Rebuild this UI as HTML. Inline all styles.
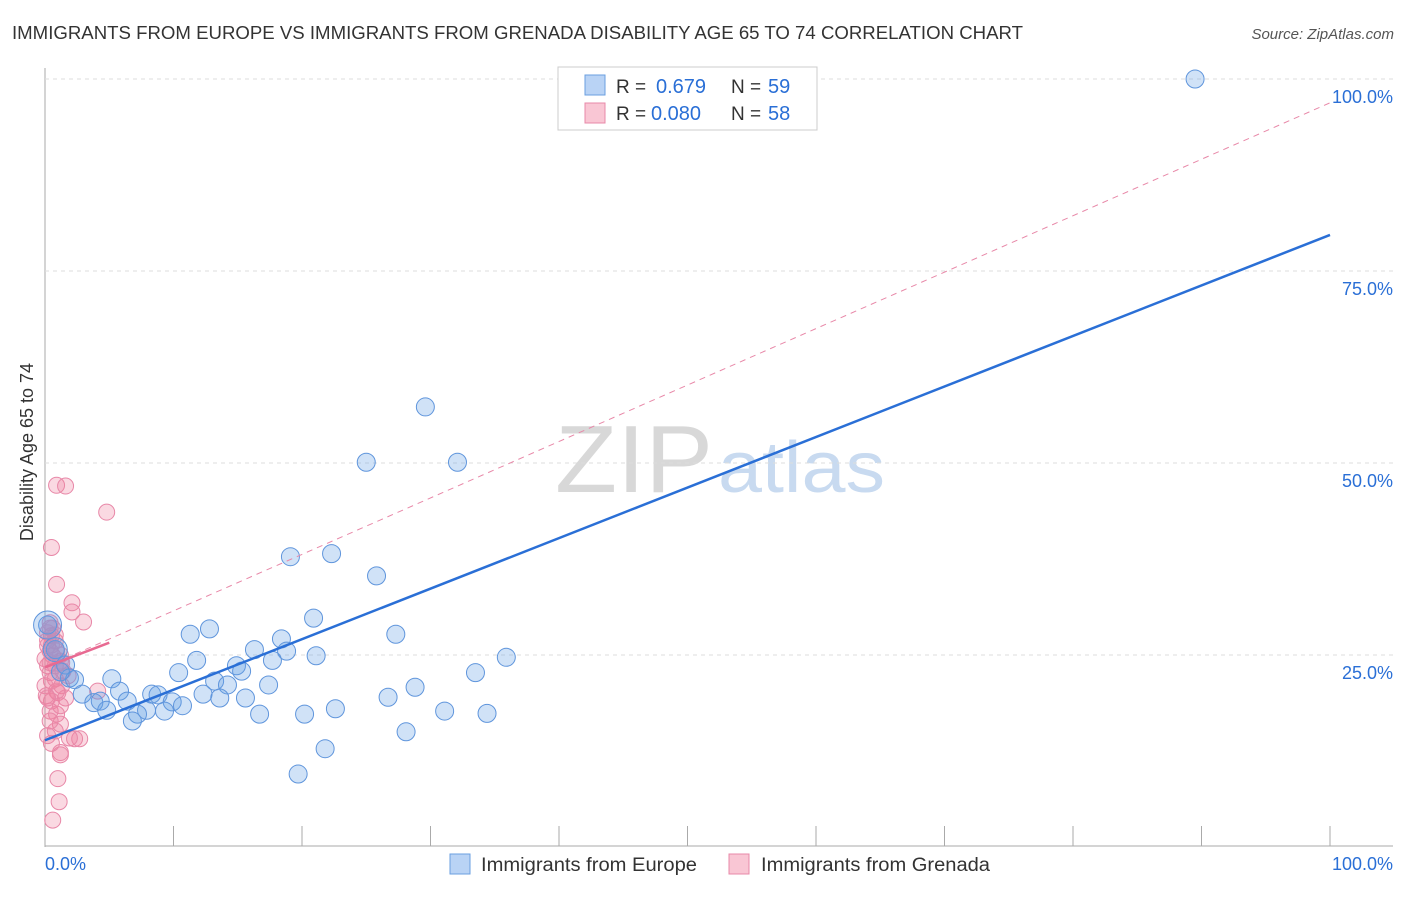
<!DOCTYPE html>
<html><head><meta charset="utf-8"><style>
body{margin:0;background:#fff;font-family:"Liberation Sans",sans-serif}
svg text{font-family:"Liberation Sans",sans-serif}
</style></head><body>
<svg id="c" width="1406" height="892" xmlns="http://www.w3.org/2000/svg">
<text x="12" y="39" font-size="18" fill="#333" textLength="1011" lengthAdjust="spacingAndGlyphs">IMMIGRANTS FROM EUROPE VS IMMIGRANTS FROM GRENADA DISABILITY AGE 65 TO 74 CORRELATION CHART</text>
<text x="1394" y="39" font-size="15" fill="#555" font-style="italic" text-anchor="end">Source: ZipAtlas.com</text>
<text x="36" y="455" font-size="18" fill="#333" text-anchor="middle" transform="rotate(-90 33 455)">Disability Age 65 to 74</text>
<text x="555" y="492" font-size="96" fill="#d8d8d8" font-family="Liberation Serif" textLength="158" lengthAdjust="spacingAndGlyphs">ZIP</text>
<text x="718" y="492" font-size="72" fill="#c8daf0" textLength="167" lengthAdjust="spacingAndGlyphs">atlas</text>
<g id="grid"></g><g id="marks"></g>
<g>
<rect x="558" y="67" width="259" height="63" fill="#fff" stroke="#ccc"/>
<rect x="585" y="75" width="20" height="20" fill="#b9d3f5" stroke="#6a9fe0"/>
<text x="616" y="93" font-size="19" fill="#333">R =</text>
<text x="656" y="93" font-size="20" fill="#2a6fd6">0.679</text>
<text x="731" y="93" font-size="19" fill="#333">N =</text>
<text x="768" y="93" font-size="20" fill="#2a6fd6">59</text>
<rect x="585" y="103" width="20" height="20" fill="#f9c6d4" stroke="#e888a8"/>
<text x="616" y="120" font-size="19" fill="#333">R =</text>
<text x="651" y="120" font-size="20" fill="#2a6fd6">0.080</text>
<text x="731" y="120" font-size="19" fill="#333">N =</text>
<text x="768" y="120" font-size="20" fill="#2a6fd6">58</text>
</g>
<g>
<rect x="450" y="854" width="20" height="20" fill="#b9d3f5" stroke="#6a9fe0"/>
<text x="481" y="871" font-size="19" fill="#333" textLength="216" lengthAdjust="spacingAndGlyphs">Immigrants from Europe</text>
<rect x="729" y="854" width="20" height="20" fill="#f9c6d4" stroke="#e888a8"/>
<text x="761" y="871" font-size="19" fill="#333" textLength="229" lengthAdjust="spacingAndGlyphs">Immigrants from Grenada</text>
</g>
</svg>
<script>
const yTicks=[25,50,75,100];
const blueX=[89.5,29.6,25.0,32.1,22.3,19.1,25.8,20.9,12.8,11.3,27.3,18.4,16.3,18.8,21.1,35.9,17.7,11.8,14.9,15.3,33.5,10.4,5.2,13.2,14.2,17.4,28.8,5.8,8.3,8.8,12.3,2.9,26.7,15.6,13.6,6.4,3.8,4.3,9.9,10.7,9.3,22.6,31.1,7.9,4.8,20.2,34.4,16.7,7.2,6.8,28.1,21.8,19.7,0.2,0.8,1.6,1.9,2.3,1.2];
const blueY=[100,57.3,50.1,50.1,38.2,37.8,35.3,29.8,28.4,27.7,27.7,27.1,25.7,25.5,24.9,24.7,24.3,24.3,23.6,22.9,22.7,22.7,21.9,21.6,21.1,21.1,20.8,20.3,19.9,19.8,19.9,19.9,19.5,19.4,19.4,19.0,18.8,19.0,18.9,18.4,17.7,18.0,17.7,17.8,17.8,17.3,17.4,17.3,17.3,16.4,15.0,12.8,9.5,28.9,25.7,23.7,22.0,21.8,22.8];
const pinkX=[0.9,1.6,4.8,0.5,0.9,2.1,2.1,3.0,0.4,0.5,0.8,0.2,0.4,0.6,1.2,0.2,0.4,0.8,1.3,1.0,4.1,1.6,0.5,0.4,0.9,1.2,0.8,0.2,2.3,2.7,1.2,1.2,1.0,1.1,0.6,0.4,0.6,0.2,0.8,0.2,0.5,0.9,1.2,0.0,0.4,1.4,1.8,0.5,0.9,0.1,1.2,0.4,0.5,1.9,0.0,0.8,1.3,0.2];
const pinkY=[47.1,47.0,43.6,39.0,34.2,31.8,30.6,29.3,28.5,27.5,26.8,26.2,25.5,24.9,24.2,23.6,22.7,21.9,21.0,20.1,20.3,19.4,19.0,17.7,17.3,16.0,15.1,14.5,14.1,14.1,12.3,12.0,8.9,5.9,3.5,29.2,28.5,27.9,27.6,26.9,26.3,25.5,25.0,24.5,24.0,22.9,22.3,21.6,20.3,19.7,18.4,16.4,13.5,14.2,21.0,23.6,24.0,19.4];
const bigBlue=[[0.2,28.9,14],[0.8,25.7,12]];
const X=v=>45+v*12.85, Y=v=>847-v*7.68;
const NS='http://www.w3.org/2000/svg';
function mk(tag,at,parent){const e=document.createElementNS(NS,tag);for(const k in at)e.setAttribute(k,at[k]);parent.appendChild(e);return e;}
const g=document.getElementById('grid'),m=document.getElementById('marks');
mk('line',{x1:45,y1:68,x2:45,y2:847,stroke:'#aaa'},g);
mk('line',{x1:45,y1:846,x2:1393,y2:846,stroke:'#aaa'},g);
yTicks.forEach(t=>{
 const l=mk('line',{x1:45,y1:Y(t),x2:1393,y2:Y(t),stroke:'#ddd','stroke-dasharray':'4,4'},g);
 
 
 const tx=mk('text',{x:1393,y:Y(t)+24,'font-size':18,fill:'#2a6fd6','text-anchor':'end'},g);
 tx.textContent=t.toFixed(1)+'%';
 
 
});
for(let i=1;i<=10;i++){mk('line',{x1:45+i*128.5,y1:826,x2:45+i*128.5,y2:846,stroke:'#aaa'},g);}
const t0=mk('text',{x:45,y:870,'font-size':18,fill:'#2a6fd6'},g);t0.textContent='0.0%';


const t1=mk('text',{x:1393,y:870,'font-size':18,fill:'#2a6fd6','text-anchor':'end'},g);t1.textContent='100.0%';


pinkX.forEach((x,i)=>{const c=mk('circle',{cx:X(x),cy:Y(pinkY[i]),r:8,fill:'rgba(240,130,160,0.3)',stroke:'#e888a8','stroke-width':1},m);
 
 });
blueX.forEach((x,i)=>{const c=mk('circle',{cx:X(x),cy:Y(blueY[i]),r:9,fill:'rgba(100,160,230,0.3)',stroke:'#5f95dc','stroke-width':1},m);
 
 });
bigBlue.forEach(b=>{const c=mk('circle',{cx:X(b[0]),cy:Y(b[1]),r:b[2],fill:'rgba(100,160,230,0.3)',stroke:'#5f95dc'},m);
 
 });
const pd=mk('line',{x1:X(0),y1:Y(23.4),x2:X(100),y2:Y(96.9),stroke:'#e888a8','stroke-dasharray':'6,5','stroke-width':1},m);


const ps=mk('line',{x1:X(0),y1:Y(23.4),x2:X(5),y2:Y(26.6),stroke:'#e86a92','stroke-width':2.5},m);


const bl=mk('line',{x1:X(0),y1:Y(13.9),x2:X(100),y2:Y(79.7),stroke:'#2a6fd6','stroke-width':2.5},m);


</script>
</body></html>
